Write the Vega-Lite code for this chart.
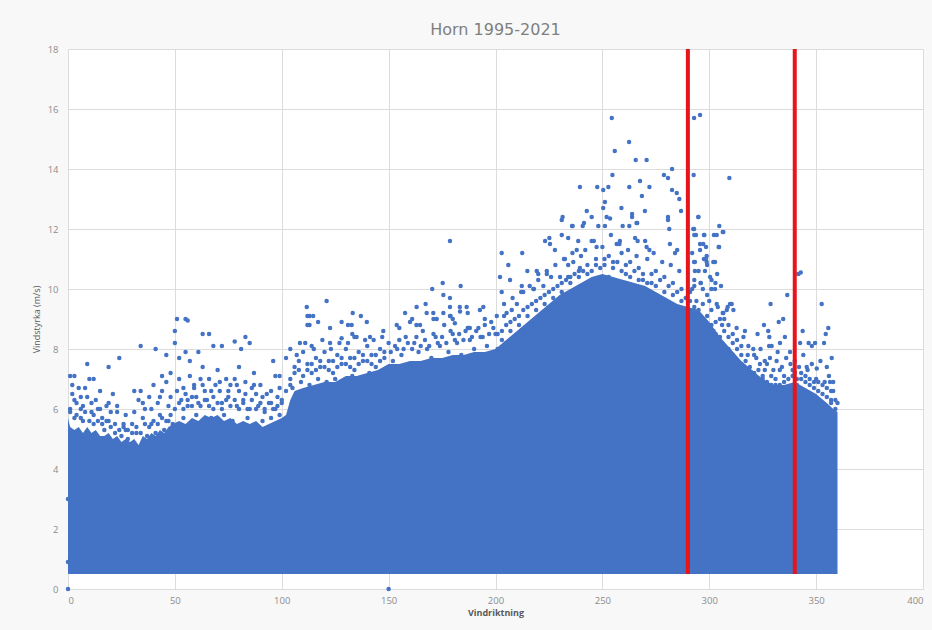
{
  "$schema": "https://vega.github.io/schema/vega-lite/v6.json",
  "width": 855,
  "height": 540,
  "autosize": {"type": "none"},
  "padding": {"left": 68, "top": 49, "right": 9, "bottom": 41},
  "background": "#f8f8f8",
  "title": {"text": "Horn 1995-2021", "fontSize": 16, "font": "DejaVu Sans", "fontWeight": "normal", "color": "#7f7f7f", "offset": 6, "anchor": "middle"},
  "config": {
    "view": {"stroke": null, "fill": "#ffffff"},
    "axis": {"domain": false, "ticks": false, "grid": true, "gridColor": "#dcdcdc", "gridWidth": 1, "labelFont": "Open Sans", "labelFontSize": 9.5, "labelColor": "#8c8c8c", "titleFont": "Open Sans", "titleFontSize": 9, "titleColor": "#595959"}
  },
  "datasets": {
    "env": [
      {"d":0,"top":5.7},{"d":1,"top":5.4},{"d":3,"top":5.3},{"d":5,"top":5.4},{"d":7,"top":5.2},{"d":9,"top":5.4},{"d":11,"top":5.2},{"d":13,"top":5.3},{"d":15,"top":5.1},{"d":17,"top":5.1},{"d":19,"top":5.2},{"d":21,"top":5.0},{"d":23,"top":5.1},{"d":25,"top":4.9},{"d":27,"top":5.0},{"d":29,"top":4.9},{"d":31,"top":5.0},{"d":33,"top":4.8},{"d":35,"top":5.1},{"d":37,"top":5.0},{"d":39,"top":5.2},{"d":41,"top":5.1},{"d":43,"top":5.3},{"d":45,"top":5.2},{"d":47,"top":5.4},{"d":49,"top":5.5},{"d":52,"top":5.6},{"d":55,"top":5.5},{"d":58,"top":5.7},{"d":61,"top":5.6},{"d":64,"top":5.8},{"d":67,"top":5.7},{"d":70,"top":5.8},{"d":73,"top":5.6},{"d":76,"top":5.7},{"d":79,"top":5.5},{"d":82,"top":5.6},{"d":85,"top":5.5},{"d":88,"top":5.6},{"d":91,"top":5.4},{"d":94,"top":5.5},{"d":97,"top":5.6},{"d":100,"top":5.7},{"d":102,"top":5.8},{"d":104,"top":6.3},{"d":106,"top":6.6},{"d":110,"top":6.7},{"d":115,"top":6.8},{"d":120,"top":6.9},{"d":125,"top":6.9},{"d":130,"top":7.1},{"d":135,"top":7.1},{"d":140,"top":7.2},{"d":145,"top":7.3},{"d":150,"top":7.5},{"d":155,"top":7.5},{"d":160,"top":7.6},{"d":165,"top":7.6},{"d":170,"top":7.7},{"d":175,"top":7.7},{"d":180,"top":7.8},{"d":185,"top":7.8},{"d":190,"top":7.9},{"d":195,"top":7.9},{"d":200,"top":8.0},{"d":205,"top":8.3},{"d":210,"top":8.6},{"d":215,"top":8.9},{"d":220,"top":9.2},{"d":225,"top":9.5},{"d":230,"top":9.8},{"d":235,"top":10.0},{"d":240,"top":10.2},{"d":245,"top":10.4},{"d":250,"top":10.5},{"d":255,"top":10.4},{"d":260,"top":10.3},{"d":265,"top":10.2},{"d":270,"top":10.1},{"d":275,"top":9.9},{"d":280,"top":9.7},{"d":285,"top":9.5},{"d":290,"top":9.4},{"d":295,"top":9.3},{"d":300,"top":8.9},{"d":305,"top":8.4},{"d":310,"top":8.0},{"d":315,"top":7.6},{"d":320,"top":7.3},{"d":325,"top":7.0},{"d":330,"top":6.8},{"d":335,"top":6.8},{"d":340,"top":6.9},{"d":345,"top":6.7},{"d":350,"top":6.5},{"d":355,"top":6.2},{"d":358,"top":6.0},{"d":360,"top":5.9}
    ],
    "pts": [
      {"d":0,"v":0},{"d":150,"v":0},{"d":0,"v":0.9},{"d":0,"v":3.0},
      {"d":1,"v":7.1},{"d":3,"v":7.1},{"d":2,"v":6.8},{"d":5,"v":6.7},{"d":8,"v":6.7},{"d":10,"v":7.0},{"d":12,"v":7.0},{"d":2,"v":6.5},{"d":9,"v":6.4},{"d":4,"v":6.2},{"d":13,"v":6.3},{"d":15,"v":6.6},{"d":18,"v":6.1},{"d":21,"v":6.5},{"d":16,"v":5.7},{"d":23,"v":5.9},{"d":26,"v":5.5},{"d":30,"v":5.5},{"d":6,"v":6.0},{"d":11,"v":5.9},{"d":14,"v":6.0},{"d":7,"v":5.6},{"d":19,"v":5.6},{"d":1,"v":6.0},{"d":3,"v":5.7},{"d":12,"v":5.5},{"d":17,"v":5.3},{"d":22,"v":5.2},{"d":25,"v":5.1},{"d":28,"v":5.0},{"d":9,"v":7.5},{"d":19,"v":7.4},{"d":24,"v":7.7},{"d":6,"v":6.4},{"d":20,"v":5.9},{"d":27,"v":5.3},
      {"d":31,"v":6.6},{"d":34,"v":6.6},{"d":33,"v":6.3},{"d":36,"v":6.0},{"d":38,"v":6.4},{"d":40,"v":6.8},{"d":42,"v":6.2},{"d":44,"v":6.6},{"d":46,"v":6.9},{"d":48,"v":6.4},{"d":35,"v":5.7},{"d":39,"v":5.5},{"d":43,"v":5.8},{"d":47,"v":5.6},{"d":32,"v":5.2},{"d":37,"v":5.1},{"d":41,"v":5.2},{"d":45,"v":5.3},{"d":49,"v":5.5},{"d":34,"v":8.1},{"d":41,"v":8.0},{"d":46,"v":7.8},{"d":50,"v":8.2},{"d":50,"v":8.6},{"d":51,"v":9.0},{"d":55,"v":9.0},{"d":56,"v":8.95},{"d":44,"v":7.1},{"d":48,"v":7.2},
      {"d":52,"v":7.7},{"d":55,"v":7.9},{"d":61,"v":7.9},{"d":63,"v":8.5},{"d":66,"v":8.5},{"d":68,"v":8.1},{"d":72,"v":8.1},{"d":78,"v":8.25},{"d":81,"v":8.0},{"d":83,"v":8.4},{"d":85,"v":8.2},{"d":96,"v":7.6},{"d":97,"v":7.1},{"d":99,"v":7.1},{"d":102,"v":7.7},
      {"d":52,"v":7.0},{"d":54,"v":6.7},{"d":57,"v":7.1},{"d":59,"v":6.8},{"d":62,"v":7.0},{"d":64,"v":6.6},{"d":66,"v":7.0},{"d":69,"v":6.8},{"d":71,"v":6.6},{"d":74,"v":7.0},{"d":76,"v":6.8},{"d":78,"v":7.0},{"d":80,"v":6.6},{"d":83,"v":6.9},{"d":86,"v":6.7},{"d":88,"v":6.5},{"d":90,"v":6.8},{"d":93,"v":6.5},{"d":95,"v":6.2},{"d":98,"v":6.4},{"d":53,"v":6.3},{"d":56,"v":6.1},{"d":58,"v":6.4},{"d":61,"v":6.2},{"d":65,"v":6.3},{"d":68,"v":6.0},{"d":72,"v":6.2},{"d":75,"v":6.4},{"d":79,"v":6.1},{"d":82,"v":6.3},{"d":85,"v":6.0},{"d":89,"v":6.1},{"d":92,"v":5.9},{"d":97,"v":6.0},{"d":100,"v":6.2},{"d":54,"v":5.7},{"d":60,"v":5.8},{"d":67,"v":5.7},{"d":73,"v":5.8},{"d":77,"v":5.6},{"d":84,"v":5.7},{"d":91,"v":5.6},{"d":95,"v":5.7},{"d":99,"v":5.8},{"d":70,"v":7.3},{"d":87,"v":7.2},{"d":63,"v":7.4},{"d":57,"v":7.6},{"d":80,"v":7.4},
      {"d":111.7,"v":9.4},{"d":121,"v":9.6},{"d":113,"v":9.1},{"d":114.7,"v":9.1},{"d":113,"v":8.8},{"d":117,"v":8.9},{"d":122.6,"v":8.7},{"d":128,"v":8.9},{"d":131,"v":8.8},{"d":132.7,"v":8.8},{"d":133.2,"v":9.2},{"d":137,"v":9.1},{"d":139.8,"v":8.9},{"d":133,"v":8.5},{"d":134,"v":8.4},{"d":141.3,"v":8.4},{"d":147.5,"v":8.6},{"d":128,"v":8.36},{"d":122.6,"v":8.2},{"d":114,"v":8.1},{"d":108.5,"v":8.2},{"d":104,"v":8.0},{"d":112,"v":9.1},{"d":112,"v":8.8},
      {"d":104,"v":7.0},{"d":106,"v":7.4},{"d":108,"v":7.6},{"d":110,"v":7.9},{"d":112,"v":7.5},{"d":114,"v":7.2},{"d":116,"v":7.7},{"d":118,"v":7.4},{"d":120,"v":7.9},{"d":122,"v":7.6},{"d":124,"v":7.2},{"d":126,"v":7.8},{"d":128,"v":7.5},{"d":130,"v":8.0},{"d":132,"v":7.7},{"d":134,"v":7.3},{"d":136,"v":7.9},{"d":138,"v":7.6},{"d":140,"v":8.1},{"d":142,"v":7.8},{"d":144,"v":7.4},{"d":146,"v":8.0},{"d":148,"v":7.7},{"d":150,"v":8.2},{"d":105,"v":6.7},{"d":109,"v":6.9},{"d":113,"v":6.8},{"d":117,"v":7.0},{"d":121,"v":6.9},{"d":125,"v":7.0},{"d":129,"v":6.9},{"d":133,"v":7.1},{"d":137,"v":7.0},{"d":141,"v":7.2},{"d":145,"v":7.1},{"d":149,"v":7.3},{"d":111,"v":8.2},{"d":119,"v":8.3},{"d":127,"v":8.2},{"d":135,"v":8.4},{"d":143,"v":8.3},
      {"d":178.7,"v":11.6},{"d":175.3,"v":10.2},{"d":170.4,"v":10.0},{"d":183.7,"v":10.1},{"d":175.6,"v":9.8},{"d":178.7,"v":9.7},{"d":167.3,"v":9.5},{"d":163.1,"v":9.4},{"d":157.7,"v":9.2},{"d":161,"v":9.0},{"d":160,"v":8.9},{"d":167.8,"v":9.2},{"d":170.9,"v":9.2},{"d":178.7,"v":9.4},{"d":183.3,"v":9.4},{"d":172.5,"v":9.0},{"d":180,"v":9.0},{"d":153.8,"v":8.8},{"d":164.7,"v":8.8},{"d":187.3,"v":8.7},{"d":175.6,"v":9.2},{"d":178.7,"v":9.1},{"d":186.5,"v":9.4},{"d":194.3,"v":9.4},{"d":183.4,"v":9.25},{"d":192.7,"v":9.3},{"d":181,"v":8.86},{"d":188,"v":8.7},{"d":200.6,"v":9.1},{"d":205.2,"v":9.2},{"d":207.6,"v":9.3},
      {"d":152,"v":7.6},{"d":154,"v":8.0},{"d":156,"v":7.8},{"d":158,"v":8.4},{"d":160,"v":7.5},{"d":162,"v":8.2},{"d":164,"v":7.9},{"d":166,"v":8.6},{"d":168,"v":8.0},{"d":170,"v":7.7},{"d":172,"v":8.4},{"d":174,"v":8.1},{"d":176,"v":8.8},{"d":178,"v":7.9},{"d":180,"v":8.5},{"d":182,"v":8.2},{"d":184,"v":7.8},{"d":186,"v":8.6},{"d":188,"v":8.3},{"d":190,"v":8.0},{"d":192,"v":8.7},{"d":194,"v":8.4},{"d":196,"v":8.1},{"d":198,"v":8.9},{"d":200,"v":8.5},{"d":155,"v":8.7},{"d":163,"v":8.8},{"d":171,"v":9.0},{"d":179,"v":9.1},{"d":187,"v":9.2},{"d":195,"v":9.0},
      {"d":239.5,"v":13.4},{"d":247.6,"v":13.4},{"d":242.7,"v":12.6},{"d":231,"v":12.3},{"d":231.4,"v":12.4},{"d":245,"v":12.4},{"d":236.1,"v":12.1},{"d":241.4,"v":12.2},{"d":223.2,"v":11.6},{"d":225.2,"v":11.7},{"d":225.5,"v":11.5},{"d":231,"v":11.8},{"d":234,"v":11.7},{"d":238.7,"v":11.6},{"d":202.9,"v":11.2},{"d":212.5,"v":11.2},{"d":227.8,"v":11.3},{"d":206,"v":10.8},{"d":202.1,"v":10.4},{"d":214.9,"v":10.6},{"d":219.3,"v":10.6},{"d":220,"v":10.5},{"d":224,"v":10.5},{"d":206.8,"v":10.3},{"d":212.3,"v":10.1},{"d":202.9,"v":9.9},{"d":213,"v":9.9},{"d":217.7,"v":10.0},{"d":222.4,"v":10.1},{"d":230.2,"v":10.4},{"d":234,"v":10.4},{"d":232.5,"v":11.0},{"d":236.4,"v":10.9},{"d":239.5,"v":10.7},{"d":238,"v":11.3},{"d":245,"v":11.6},{"d":247.3,"v":11.4},
      {"d":254.4,"v":15.7},{"d":292.9,"v":15.7},{"d":295.7,"v":15.8},{"d":262.5,"v":14.9},{"d":255.8,"v":14.6},{"d":265.6,"v":14.3},{"d":270.7,"v":14.3},{"d":282.6,"v":14.0},{"d":278.8,"v":13.8},{"d":280.7,"v":13.7},{"d":292.7,"v":13.8},{"d":309.4,"v":13.7},{"d":254.7,"v":13.8},{"d":267.6,"v":13.6},{"d":250.4,"v":13.3},{"d":252.8,"v":13.4},{"d":262.6,"v":13.4},{"d":272,"v":13.4},{"d":268.5,"v":13.1},{"d":282.6,"v":13.3},{"d":284.8,"v":13.2},{"d":286,"v":13.0},{"d":251.2,"v":12.9},{"d":250.4,"v":12.7},{"d":258.9,"v":12.7},{"d":263.9,"v":12.5},{"d":263.9,"v":12.4},{"d":269.9,"v":12.6},{"d":286.8,"v":12.6},{"d":252,"v":12.4},{"d":253.6,"v":12.35},{"d":280.7,"v":12.4},{"d":280.7,"v":12.3},{"d":294.9,"v":12.4},{"d":235.8,"v":12.1},{"d":240.8,"v":12.1},{"d":248.1,"v":12.1},{"d":251.2,"v":12.1},{"d":259.5,"v":12.1},{"d":262.6,"v":12.1},{"d":266.3,"v":12.2},{"d":281.3,"v":12.0},{"d":292.9,"v":12.0},{"d":304.7,"v":12.1},{"d":306.3,"v":11.9},{"d":297.5,"v":11.8},{"d":302.2,"v":11.8},{"d":304.4,"v":11.4},{"d":293,"v":11.8},{"d":295.7,"v":11.5},{"d":298.8,"v":11.1},{"d":298.8,"v":10.9},{"d":301.9,"v":10.9},{"d":293.3,"v":10.9},{"d":285,"v":11.3},{"d":284,"v":11.2},{"d":281.6,"v":11.5},{"d":270.7,"v":11.4},{"d":272,"v":11.3},{"d":265.3,"v":11.7},{"d":266.5,"v":11.6},{"d":258.2,"v":11.6},{"d":256.7,"v":11.5},{"d":266,"v":12.2},{"d":310.5,"v":9.5},{"d":308.2,"v":9.3},{"d":306.3,"v":9.2},{"d":305.5,"v":10.1},{"d":302.9,"v":10.2},{"d":303.7,"v":10.5},{"d":296,"v":10.2},{"d":293,"v":10.3},
      {"d":294.9,"v":12.4},{"d":306.6,"v":11.9},{"d":292.5,"v":12.0},{"d":293.8,"v":11.8},{"d":297.7,"v":11.8},{"d":303.5,"v":11.8},{"d":297.2,"v":11.5},{"d":298.5,"v":11.4},{"d":304.6,"v":11.4},{"d":295.7,"v":11.3},{"d":292.9,"v":10.9},{"d":297.5,"v":11.0},{"d":298.5,"v":11.0},{"d":302.7,"v":10.9},{"d":293.3,"v":10.6},{"d":298,"v":10.6},{"d":300.4,"v":10.4},{"d":301.1,"v":10.3},{"d":302.7,"v":10.0},{"d":303.5,"v":9.5},{"d":341.7,"v":10.5},{"d":342.8,"v":10.55},{"d":336.5,"v":9.8},{"d":328.7,"v":9.5},{"d":352.6,"v":9.5},{"d":309.7,"v":9.5},{"d":308.6,"v":9.4},{"d":311.3,"v":9.3},{"d":306.6,"v":9.2},{"d":334.6,"v":9.0},{"d":332.5,"v":8.9},{"d":325.6,"v":8.8},{"d":322.6,"v":8.5},{"d":316.7,"v":8.6},{"d":327.6,"v":8.6},{"d":328.1,"v":8.4},{"d":335.4,"v":8.4},{"d":343.7,"v":8.6},{"d":355.7,"v":8.7},{"d":354.5,"v":8.5},{"d":353.7,"v":8.2},{"d":349.5,"v":8.2},{"d":348,"v":8.1},{"d":346.5,"v":8.2},{"d":342.5,"v":8.2},{"d":337.8,"v":7.9},{"d":333.1,"v":8.2},{"d":329.2,"v":8.1},{"d":318.3,"v":8.1},{"d":320.6,"v":8.0},{"d":311,"v":8.5},{"d":316,"v":8.4},{"d":312.8,"v":8.7},{"d":357.3,"v":7.7},{"d":355,"v":7.4},{"d":350.3,"v":7.35},{"d":345.6,"v":7.4},{"d":356.5,"v":6.9},{"d":358,"v":6.6},{"d":357,"v":6.3},{"d":340,"v":7.6},{"d":331.5,"v":7.6},{"d":328.4,"v":7.7},{"d":326,"v":7.6},{"d":323.7,"v":7.5},
      {"d":201,"v":8.0},{"d":203,"v":8.6},{"d":205,"v":8.2},{"d":207,"v":8.9},{"d":209,"v":8.4},{"d":211,"v":9.1},{"d":213,"v":8.6},{"d":215,"v":9.4},{"d":217,"v":8.8},{"d":219,"v":9.6},{"d":221,"v":9.0},{"d":223,"v":9.8},{"d":225,"v":9.2},{"d":227,"v":10.0},{"d":229,"v":9.5},{"d":231,"v":10.2},{"d":233,"v":9.7},{"d":235,"v":10.4},{"d":237,"v":9.9},{"d":239,"v":10.6},{"d":204,"v":9.5},{"d":208,"v":9.7},{"d":212,"v":9.9},{"d":216,"v":10.1},{"d":220,"v":10.3},{"d":224,"v":10.6},{"d":228,"v":10.8},{"d":232,"v":11.0},{"d":236,"v":11.2},{"d":240,"v":11.1},
      {"d":241,"v":10.1},{"d":243,"v":10.5},{"d":247,"v":10.8},{"d":249,"v":10.3},{"d":251,"v":11.0},{"d":253,"v":10.4},{"d":255,"v":10.9},{"d":259,"v":11.2},{"d":261,"v":10.5},{"d":263,"v":10.9},{"d":267,"v":10.7},{"d":269,"v":10.3},{"d":271,"v":11.0},{"d":273,"v":10.2},{"d":275,"v":10.6},{"d":279,"v":10.4},{"d":283,"v":10.2},{"d":287,"v":10.0},{"d":242,"v":11.3},{"d":246,"v":11.6},{"d":250,"v":11.4},{"d":254,"v":11.8},{"d":258,"v":11.5},{"d":262,"v":11.3},{"d":266,"v":11.1},{"d":270,"v":11.6},{"d":274,"v":11.2},{"d":278,"v":10.9},{"d":282,"v":10.8},{"d":286,"v":10.6},
      {"d":291,"v":9.2},{"d":292,"v":10.0},{"d":294,"v":9.6},{"d":296,"v":10.2},{"d":297,"v":9.0},{"d":299,"v":9.8},{"d":301,"v":9.3},{"d":303,"v":8.9},{"d":305,"v":9.0},{"d":307,"v":8.6},{"d":309,"v":8.8},{"d":311,"v":8.2},{"d":313,"v":8.0},{"d":315,"v":7.8},{"d":317,"v":7.6},{"d":319,"v":7.4},{"d":302,"v":8.6},{"d":304,"v":8.3},{"d":306,"v":8.2},{"d":308,"v":7.9},{"d":310,"v":7.8},{"d":312,"v":7.7},{"d":314,"v":7.5},{"d":316,"v":7.4},{"d":318,"v":7.3},{"d":320,"v":7.2},{"d":295,"v":10.6},{"d":299,"v":10.8},{"d":292,"v":11.2},
      {"d":321,"v":7.8},{"d":323,"v":7.3},{"d":325,"v":7.0},{"d":327,"v":7.5},{"d":329,"v":7.1},{"d":331,"v":6.8},{"d":333,"v":7.3},{"d":335,"v":6.9},{"d":337,"v":6.6},{"d":339,"v":7.1},{"d":341,"v":6.8},{"d":343,"v":7.2},{"d":345,"v":6.9},{"d":347,"v":7.0},{"d":349,"v":6.7},{"d":351,"v":6.9},{"d":353,"v":6.5},{"d":355,"v":6.7},{"d":357,"v":6.2},{"d":359,"v":6.0},{"d":324,"v":8.0},{"d":332,"v":7.9},{"d":344,"v":7.8},{"d":352,"v":7.6},{"d":348,"v":7.5},{"d":336,"v":7.7},{"d":328,"v":8.1},{"d":340,"v":7.2},{"d":356,"v":7.1},{"d":360,"v":6.2},
      {"d":1,"v":5.9},{"d":4,"v":5.8},{"d":6,"v":5.7},{"d":8,"v":5.9},{"d":10,"v":5.6},{"d":12,"v":5.8},{"d":14,"v":5.6},{"d":16,"v":5.5},{"d":18,"v":5.6},{"d":20,"v":5.4},{"d":22,"v":5.5},{"d":24,"v":5.3},{"d":26,"v":5.4},{"d":28,"v":5.3},{"d":30,"v":5.2},{"d":32,"v":5.4},{"d":34,"v":5.2},{"d":36,"v":5.5},{"d":38,"v":5.4},{"d":40,"v":5.6},{"d":42,"v":5.5},{"d":44,"v":5.7},{"d":46,"v":5.6},{"d":48,"v":5.8},{"d":3,"v":6.3},{"d":7,"v":6.1},{"d":11,"v":6.2},{"d":15,"v":6.0},{"d":19,"v":6.2},{"d":23,"v":6.1},{"d":27,"v":5.8},{"d":31,"v":5.9},{"d":35,"v":6.2},{"d":39,"v":6.0},{"d":43,"v":6.4},{"d":47,"v":6.1},
      {"d":50,"v":6.0},{"d":52,"v":6.2},{"d":54,"v":6.0},{"d":56,"v":6.3},{"d":58,"v":6.1},{"d":60,"v":6.4},{"d":62,"v":6.1},{"d":64,"v":6.3},{"d":66,"v":6.1},{"d":68,"v":6.4},{"d":70,"v":6.2},{"d":72,"v":6.0},{"d":74,"v":6.3},{"d":76,"v":6.1},{"d":78,"v":6.3},{"d":80,"v":6.0},{"d":82,"v":6.2},{"d":84,"v":6.0},{"d":86,"v":6.3},{"d":88,"v":6.0},{"d":90,"v":6.2},{"d":92,"v":6.0},{"d":94,"v":6.2},{"d":96,"v":6.0},{"d":98,"v":6.1},{"d":100,"v":6.3},{"d":51,"v":6.6},{"d":55,"v":6.5},{"d":59,"v":6.7},{"d":63,"v":6.8},{"d":67,"v":6.6},{"d":71,"v":6.9},{"d":75,"v":6.6},{"d":79,"v":6.8},{"d":83,"v":6.5},{"d":87,"v":6.8},{"d":91,"v":6.4},{"d":95,"v":6.6},{"d":99,"v":6.7},
      {"d":102,"v":6.6},{"d":104,"v":6.8},{"d":106,"v":7.2},{"d":108,"v":7.3},{"d":110,"v":7.1},{"d":112,"v":7.3},{"d":114,"v":7.5},{"d":116,"v":7.3},{"d":118,"v":7.6},{"d":120,"v":7.4},{"d":122,"v":7.3},{"d":124,"v":7.6},{"d":126,"v":7.4},{"d":128,"v":7.7},{"d":130,"v":7.5},{"d":132,"v":7.4},{"d":134,"v":7.7},{"d":136,"v":7.5},{"d":138,"v":7.8},{"d":140,"v":7.6},{"d":142,"v":7.5},{"d":144,"v":7.8},{"d":146,"v":7.6},{"d":148,"v":7.9},{"d":107,"v":7.8},{"d":115,"v":8.0},{"d":123,"v":8.0},{"d":131,"v":8.2},{"d":139,"v":8.3},{"d":147,"v":8.4},
      {"d":151,"v":7.9},{"d":153,"v":8.1},{"d":155,"v":8.3},{"d":157,"v":8.0},{"d":159,"v":8.2},{"d":161,"v":8.0},{"d":163,"v":8.4},{"d":165,"v":8.1},{"d":167,"v":8.3},{"d":169,"v":8.1},{"d":171,"v":8.5},{"d":173,"v":8.2},{"d":175,"v":8.4},{"d":177,"v":8.2},{"d":179,"v":8.6},{"d":181,"v":8.3},{"d":183,"v":8.5},{"d":185,"v":8.3},{"d":187,"v":8.7},{"d":189,"v":8.4},{"d":191,"v":8.6},{"d":193,"v":8.4},{"d":195,"v":8.8},{"d":197,"v":8.5},{"d":199,"v":8.7},
      {"d":201,"v":8.5},{"d":203,"v":8.3},{"d":205,"v":8.8},{"d":207,"v":8.6},{"d":209,"v":9.0},{"d":211,"v":8.8},{"d":213,"v":9.3},{"d":215,"v":9.1},{"d":217,"v":9.5},{"d":219,"v":9.3},{"d":221,"v":9.7},{"d":223,"v":9.5},{"d":225,"v":9.9},{"d":227,"v":9.7},{"d":229,"v":10.1},{"d":231,"v":9.9},{"d":233,"v":10.3},{"d":235,"v":10.2},{"d":237,"v":10.5},{"d":239,"v":10.4},{"d":204,"v":9.1},{"d":210,"v":9.5},{"d":218,"v":10.0},{"d":226,"v":10.4},{"d":234,"v":10.8},
      {"d":241,"v":10.6},{"d":243,"v":10.8},{"d":245,"v":10.6},{"d":247,"v":11.0},{"d":249,"v":10.7},{"d":251,"v":10.8},{"d":253,"v":11.1},{"d":255,"v":10.7},{"d":257,"v":10.9},{"d":259,"v":10.6},{"d":261,"v":10.8},{"d":263,"v":10.4},{"d":265,"v":10.6},{"d":267,"v":10.3},{"d":269,"v":10.5},{"d":271,"v":10.2},{"d":273,"v":10.5},{"d":275,"v":10.1},{"d":277,"v":10.3},{"d":279,"v":9.9},{"d":281,"v":10.1},{"d":283,"v":9.8},{"d":285,"v":9.9},{"d":287,"v":9.6},{"d":289,"v":9.7},
      {"d":291,"v":9.6},{"d":293,"v":9.4},{"d":295,"v":9.3},{"d":297,"v":9.5},{"d":299,"v":9.1},{"d":301,"v":8.8},{"d":303,"v":8.5},{"d":305,"v":8.4},{"d":307,"v":8.1},{"d":309,"v":8.0},{"d":311,"v":7.8},{"d":313,"v":7.6},{"d":315,"v":7.5},{"d":317,"v":7.3},{"d":319,"v":7.2},{"d":321,"v":7.2},{"d":323,"v":7.0},{"d":325,"v":7.1},{"d":327,"v":6.9},{"d":329,"v":6.8},{"d":331,"v":7.0},{"d":333,"v":6.8},{"d":335,"v":7.1},{"d":337,"v":7.0},{"d":339,"v":7.3},{"d":341,"v":7.0},{"d":343,"v":7.0},{"d":345,"v":7.1},{"d":347,"v":6.8},{"d":349,"v":6.9},{"d":351,"v":6.6},{"d":353,"v":6.8},{"d":355,"v":6.4},{"d":357,"v":6.6},{"d":359,"v":6.3},
      {"d":291,"v":9.9},{"d":293,"v":10.1},{"d":297,"v":10.0},{"d":300,"v":9.6},{"d":304,"v":9.4},{"d":307,"v":9.0},{"d":301,"v":10.0},{"d":306,"v":8.8},{"d":309,"v":8.4},{"d":313,"v":8.3},{"d":315,"v":8.1},{"d":318,"v":7.8},{"d":322,"v":7.7},{"d":326,"v":7.3},{"d":330,"v":7.3},{"d":334,"v":7.4},{"d":338,"v":7.5},{"d":342,"v":7.4},{"d":346,"v":7.3},{"d":350,"v":7.0},{"d":354,"v":6.9},{"d":358,"v":6.9}
    ],
    "lines": [{"d": 290}, {"d": 340}]
  },
  "layer": [
    {
      "data": {"name": "env"},
      "mark": {"type": "area", "color": "#4472C4", "interpolate": "linear", "opacity": 1},
      "encoding": {
        "x": {"field": "d", "type": "quantitative", "scale": {"domain": [0, 400], "nice": false, "zero": false}, "axis": {"values": [0, 50, 100, 150, 200, 250, 300, 350, 400], "title": "Vindriktning", "titleFontWeight": "bold", "labelPadding": 6, "titlePadding": 4}},
        "y": {"field": "top", "type": "quantitative", "scale": {"domain": [0, 18], "nice": false}, "axis": {"values": [0, 2, 4, 6, 8, 10, 12, 14, 16, 18], "title": "Vindstyrka (m/s)", "titleFontWeight": "normal", "labelPadding": 10, "titlePadding": 6}},
        "y2": {"datum": 0.5}
      }
    },
    {
      "data": {"name": "pts"},
      "mark": {"type": "circle", "color": "#4472C4", "size": 20, "opacity": 1},
      "encoding": {
        "x": {"field": "d", "type": "quantitative"},
        "y": {"field": "v", "type": "quantitative"}
      }
    },
    {
      "data": {"name": "lines"},
      "mark": {"type": "rule", "color": "#e8141b", "strokeWidth": 4},
      "encoding": {
        "x": {"field": "d", "type": "quantitative"},
        "y": {"datum": 18},
        "y2": {"datum": 0.5}
      }
    }
  ]
}
